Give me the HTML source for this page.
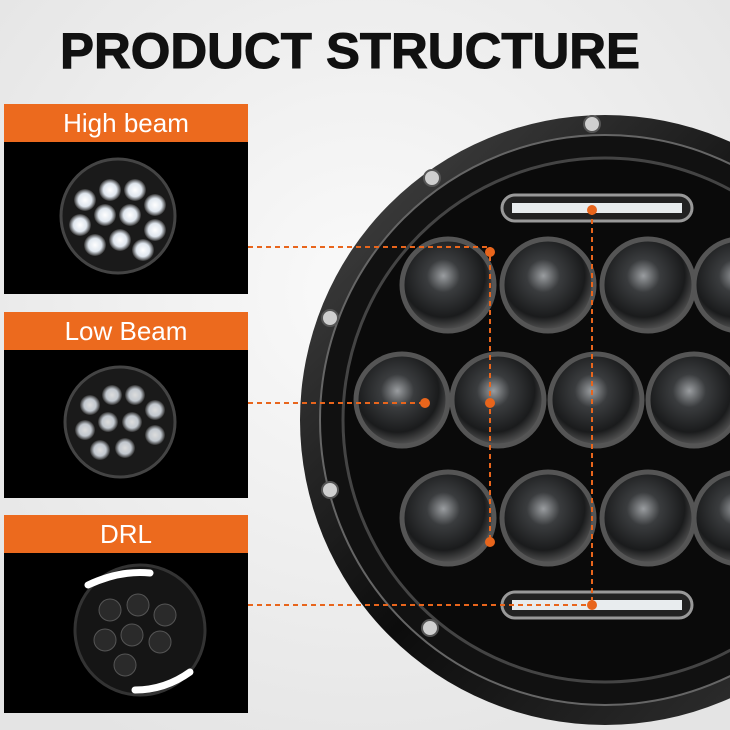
<!DOCTYPE html>
<html><head><meta charset="utf-8"><style>
html,body{margin:0;padding:0;width:730px;height:730px;overflow:hidden;background:#efefef;font-family:"Liberation Sans",sans-serif}
</style></head><body>
<svg width="730" height="730" viewBox="0 0 730 730" xmlns="http://www.w3.org/2000/svg">
<defs>
<radialGradient id="bg" cx="0.5" cy="0.4" r="0.7"><stop offset="0" stop-color="#fafafa"/><stop offset="1" stop-color="#e4e4e4"/></radialGradient>
<radialGradient id="lens" cx="0.45" cy="0.4" r="0.6"><stop offset="0" stop-color="#9a9da0"/><stop offset="0.3" stop-color="#3a3c3e"/><stop offset="0.75" stop-color="#1a1b1c"/><stop offset="1" stop-color="#555"/></radialGradient>
<radialGradient id="glow" cx="0.5" cy="0.5" r="0.5"><stop offset="0" stop-color="#fff"/><stop offset="0.6" stop-color="#dfe6ee"/><stop offset="1" stop-color="#333"/></radialGradient>
<linearGradient id="ring" x1="0" y1="0" x2="1" y2="1"><stop offset="0" stop-color="#4a4a4a"/><stop offset="0.5" stop-color="#0c0c0c"/><stop offset="1" stop-color="#3a3a3a"/></linearGradient>
</defs>
<rect width="730" height="730" fill="url(#bg)"/>
<text x="60" y="68" textLength="580" lengthAdjust="spacingAndGlyphs" font-size="50" font-weight="bold" fill="#111" stroke="#111" stroke-width="1">PRODUCT STRUCTURE</text>

<circle cx="605" cy="420" r="305" fill="url(#ring)"/>
<circle cx="605" cy="420" r="285" fill="#111" stroke="#666" stroke-width="2"/>
<circle cx="605" cy="420" r="262" fill="#0a0a0a" stroke="#444" stroke-width="3"/>
<g fill="#cfcfcf" stroke="#555" stroke-width="2">
<circle cx="592" cy="124" r="8"/><circle cx="432" cy="178" r="8"/><circle cx="330" cy="318" r="8"/><circle cx="330" cy="490" r="8"/><circle cx="430" cy="628" r="8"/></g>
<rect x="502" y="195" width="190" height="26" rx="13" fill="#222" stroke="#999" stroke-width="3"/>
<rect x="512" y="203" width="170" height="10" fill="#e8ecee"/>
<rect x="502" y="592" width="190" height="26" rx="13" fill="#222" stroke="#999" stroke-width="3"/>
<rect x="512" y="600" width="170" height="10" fill="#e8ecee"/>
<g stroke="#555" stroke-width="5" fill="url(#lens)">
<circle cx="448" cy="285" r="46"/><circle cx="548" cy="285" r="46"/><circle cx="648" cy="285" r="46"/><circle cx="740" cy="285" r="46"/>
<circle cx="402" cy="400" r="46"/><circle cx="498" cy="400" r="46"/><circle cx="596" cy="400" r="46"/><circle cx="694" cy="400" r="46"/>
<circle cx="448" cy="518" r="46"/><circle cx="548" cy="518" r="46"/><circle cx="648" cy="518" r="46"/><circle cx="740" cy="518" r="46"/>
</g>
<g stroke="#e8651c" stroke-width="2" stroke-dasharray="5,4" fill="none">
<line x1="248" y1="247" x2="490" y2="247"/><line x1="490" y1="247" x2="490" y2="545"/>
<line x1="248" y1="403" x2="425" y2="403"/>
<line x1="248" y1="605" x2="592" y2="605"/><line x1="592" y1="210" x2="592" y2="605"/>
</g>
<g fill="#e8651c"><circle cx="490" cy="252" r="5"/><circle cx="490" cy="403" r="5"/><circle cx="490" cy="542" r="5"/><circle cx="425" cy="403" r="5"/><circle cx="592" cy="210" r="5"/><circle cx="592" cy="605" r="5"/></g>

<rect x="4" y="104" width="244" height="38" fill="#ec6a1e"/>
<text x="126" y="132" text-anchor="middle" font-size="26" fill="#fff">High beam</text>
<rect x="4" y="142" width="244" height="152" fill="#000"/>
<circle cx="118" cy="216" r="57" fill="#1a1a1a" stroke="#444" stroke-width="3"/>
<g fill="url(#glow)"><circle cx="85" cy="200" r="11"/><circle cx="110" cy="190" r="11"/><circle cx="135" cy="190" r="11"/><circle cx="155" cy="205" r="11"/><circle cx="80" cy="225" r="11"/><circle cx="105" cy="215" r="11"/><circle cx="130" cy="215" r="11"/><circle cx="155" cy="230" r="11"/><circle cx="95" cy="245" r="11"/><circle cx="120" cy="240" r="11"/><circle cx="143" cy="250" r="11"/></g>

<rect x="4" y="312" width="244" height="38" fill="#ec6a1e"/>
<text x="126" y="340" text-anchor="middle" font-size="26" fill="#fff">Low Beam</text>
<rect x="4" y="350" width="244" height="148" fill="#000"/>
<circle cx="120" cy="422" r="55" fill="#1a1a1a" stroke="#444" stroke-width="3"/>
<g fill="url(#glow)" opacity="0.85"><circle cx="90" cy="405" r="10"/><circle cx="112" cy="395" r="10"/><circle cx="135" cy="395" r="10"/><circle cx="155" cy="410" r="10"/><circle cx="85" cy="430" r="10"/><circle cx="108" cy="422" r="10"/><circle cx="132" cy="422" r="10"/><circle cx="155" cy="435" r="10"/><circle cx="100" cy="450" r="10"/><circle cx="125" cy="448" r="10"/></g>

<rect x="4" y="515" width="244" height="38" fill="#ec6a1e"/>
<text x="126" y="543" text-anchor="middle" font-size="26" fill="#fff">DRL</text>
<rect x="4" y="553" width="244" height="160" fill="#000"/>
<circle cx="140" cy="630" r="65" fill="#151515" stroke="#333" stroke-width="3"/>
<g fill="#2a2a2a" stroke="#555"><circle cx="110" cy="610" r="11"/><circle cx="138" cy="605" r="11"/><circle cx="165" cy="615" r="11"/><circle cx="105" cy="640" r="11"/><circle cx="132" cy="635" r="11"/><circle cx="160" cy="642" r="11"/><circle cx="125" cy="665" r="11"/></g>
<path d="M88 585 Q120 570 150 573" stroke="#fff" stroke-width="7" fill="none" stroke-linecap="round"/>
<path d="M135 690 Q165 690 190 672" stroke="#fff" stroke-width="7" fill="none" stroke-linecap="round"/>
</svg>
</body></html>
